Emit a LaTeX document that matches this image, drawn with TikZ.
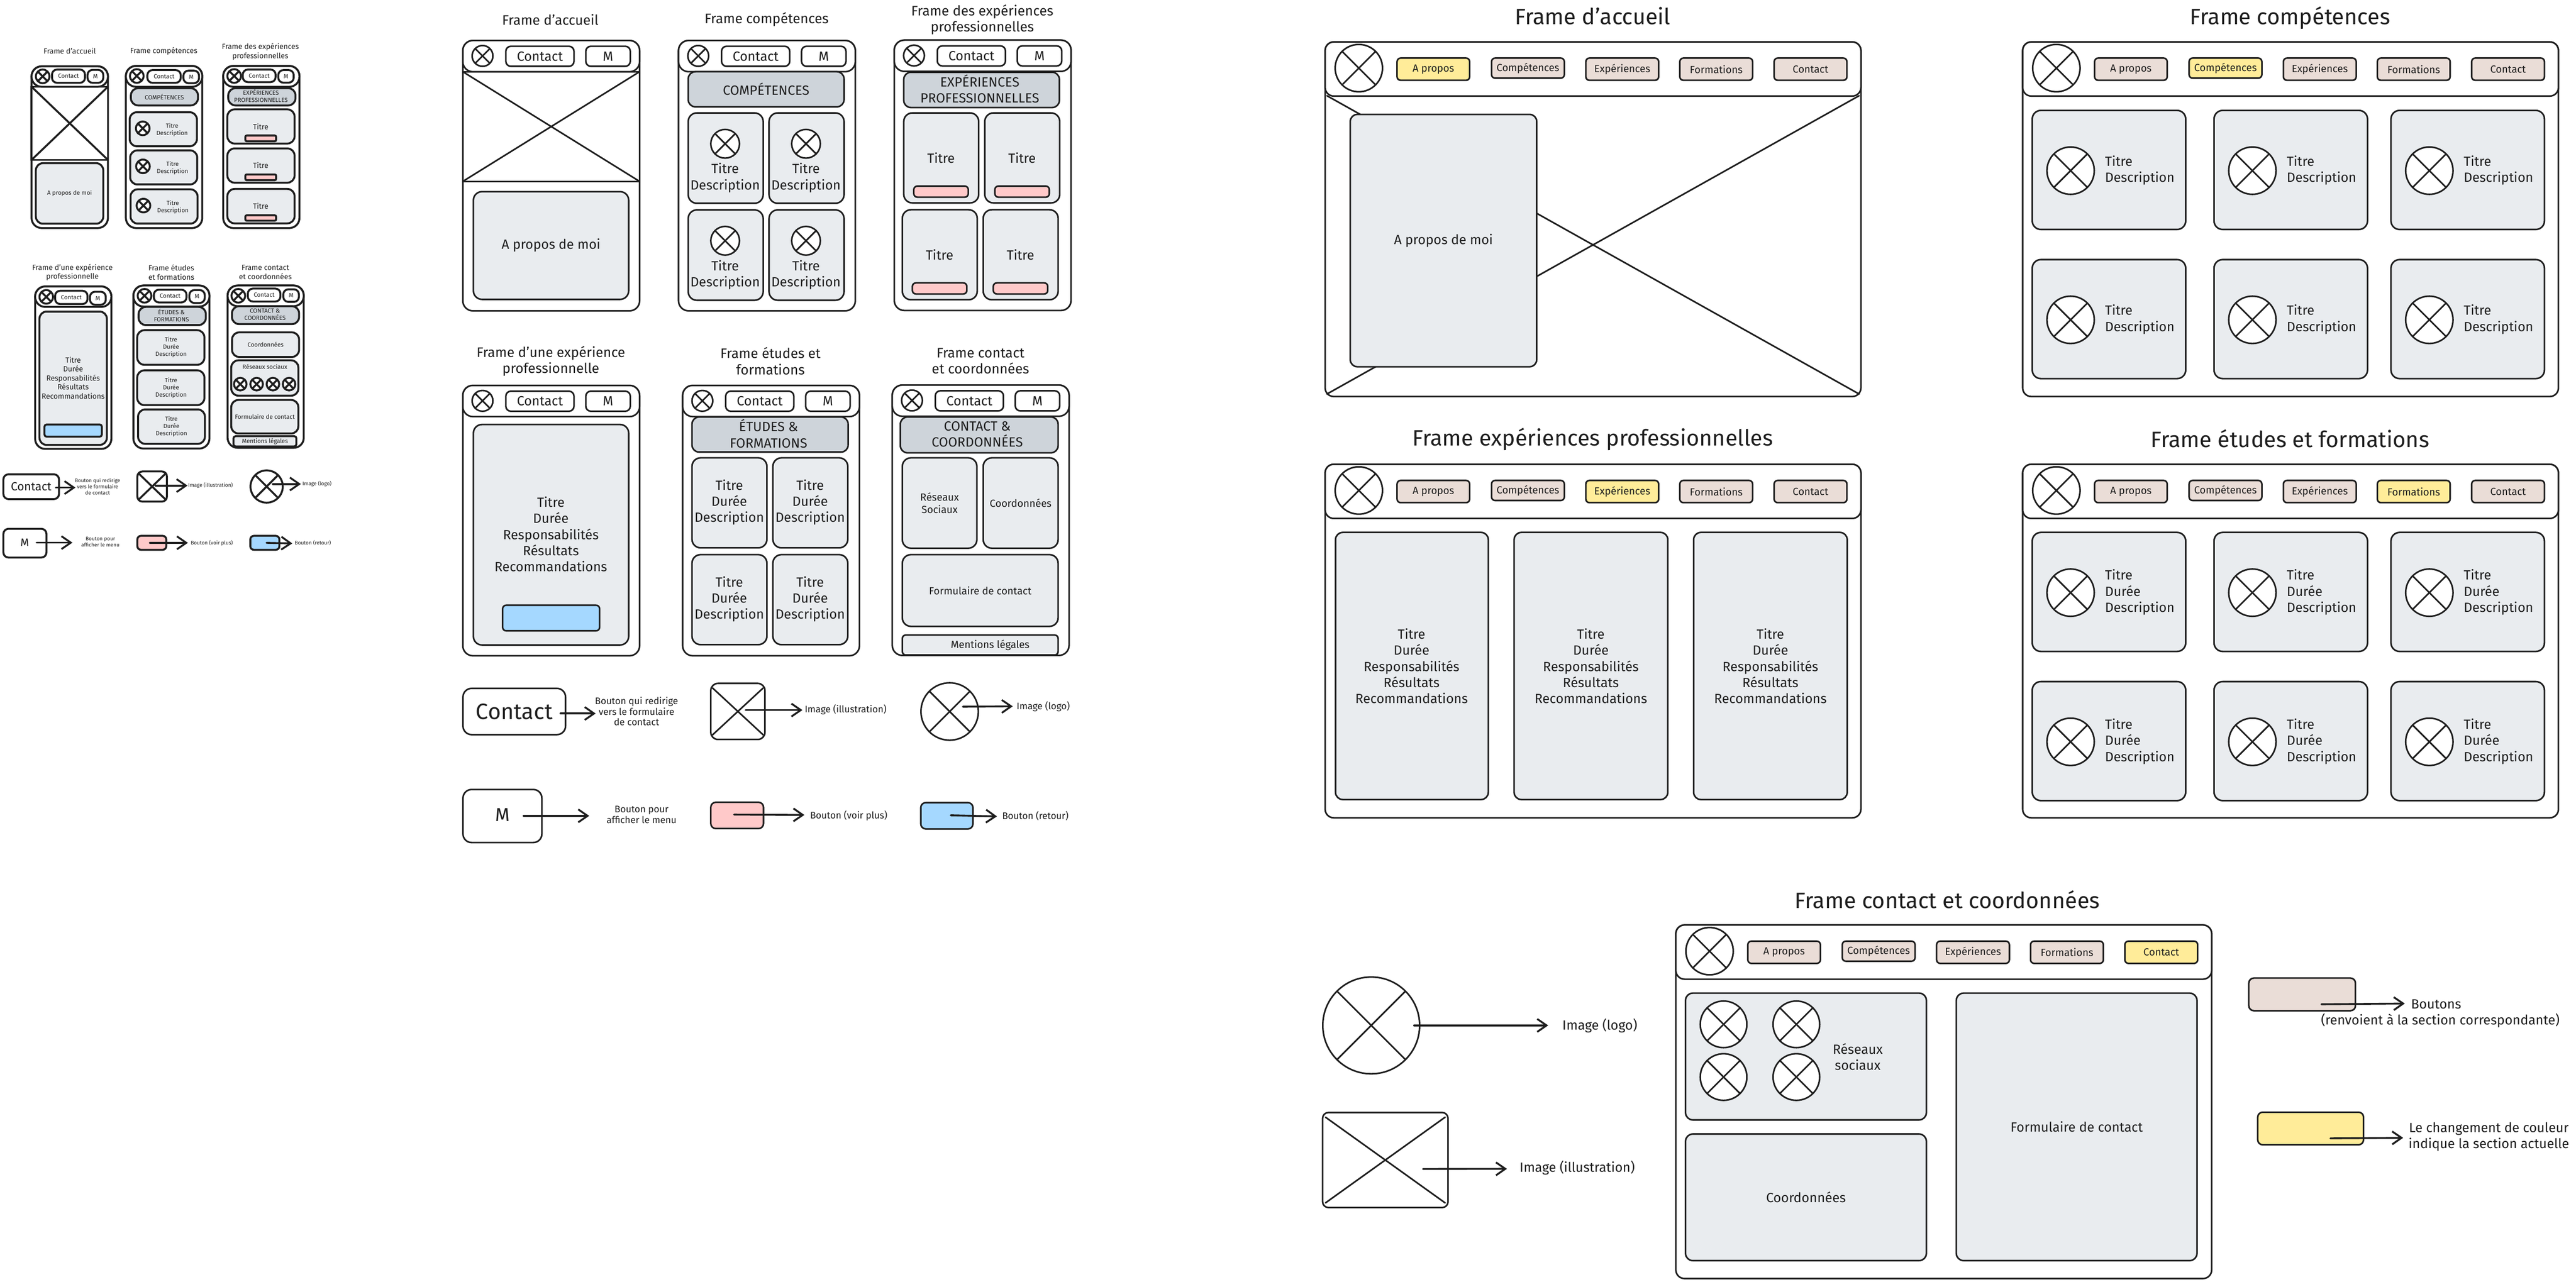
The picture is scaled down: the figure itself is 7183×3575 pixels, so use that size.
\documentclass[tikz,border=0pt]{standalone}
\usepackage{fontspec}
\setmainfont{Fira Sans}
\usetikzlibrary{arrows.meta,calc}
\definecolor{ink}{HTML}{1E1E1E}
\definecolor{grayc}{HTML}{E9ECEF}
\definecolor{bann}{HTML}{CED4DA}
\definecolor{pnk}{HTML}{FFC9C9}
\definecolor{blu}{HTML}{A5D8FF}
\definecolor{yel}{HTML}{FFEC99}
\definecolor{bei}{HTML}{EADDD7}
\tikzset{
  base/.style={rectangle,draw=ink,line width=1.1pt,inner sep=0pt,outer sep=0pt,text=ink,align=center},
  fr/.style={base,fill=white,rounded corners=7pt},
  frb/.style={base,fill=white,rounded corners=6pt},
  crd/.style={base,fill=grayc,rounded corners=6pt},
  crs/.style={base,fill=grayc,rounded corners=5pt},
  ban/.style={base,fill=bann,rounded corners=5pt},
  btn/.style={base,fill=white,rounded corners=3.5pt},
  sb/.style={base,fill=#1,rounded corners=2.5pt},
  imgb/.style={base,fill=white},
  ghost/.style={rectangle,inner sep=0pt,outer sep=0pt},
  mini/.style={line width=1.35pt},
  logo/.style={circle,draw=ink,fill=white,line width=1.1pt,inner sep=0pt,outer sep=0pt},
  cross/.style={draw=ink,line width=1.1pt,line cap=round},
  arr/.style={draw=ink,line width=1.3pt,line cap=round,-{Straight Barb[length=6.5pt,width=9pt,line width=1.3pt]}},
  txt/.style={inner sep=0pt,outer sep=0pt,text=ink,align=center},
  txl/.style={inner sep=0pt,outer sep=0pt,text=ink,align=left},
  t13/.style={font=\fontsize{3.6}{4.2}\selectfont},
  t16/.style={font=\fontsize{4.2}{5}\selectfont},
  t20/.style={font=\fontsize{5.2}{6.25}\selectfont},
  t24/.style={font=\fontsize{6.6}{7.5}\selectfont},
  t28/.style={font=\fontsize{7.2}{8.75}\selectfont},
  t30/.style={font=\fontsize{7.5}{9}\selectfont},
  t32/.style={font=\fontsize{8.2}{10}\selectfont},
  t36/.style={font=\fontsize{9.3}{11.25}\selectfont},
  t38/.style={font=\fontsize{9.6}{11.25}\selectfont},
  t55/.style={font=\fontsize{13}{16}\selectfont},
  t60/.style={font=\fontsize{15.5}{18}\selectfont},
  t61/.style={font=\fontsize{15.5}{19}\selectfont},
}
% box: name, style, x1,y1,x2,y2, text
\newcommand\bxx[7]{\pgfmathsetmacro\bxw{((#5)-(#3))*0.25}\pgfmathsetmacro\bxh{((#6)-(#4))*0.25}%
  \node[#2,minimum width=\bxw pt,minimum height=\bxh pt] (#1) at ({((#3)+(#5))/2},{((#4)+(#6))/2}) {#7};}
% logo: name,cx,cy,r,style
\newcommand\lgo[5]{\pgfmathsetmacro\lgd{2*(#4)*0.25}%
  \node[logo,#5,minimum size=\lgd pt] (#1) at ({#2},{#3}) {};
  \draw[cross,#5] (#1.45) -- (#1.225);
  \draw[cross,#5] (#1.135) -- (#1.315);}
\newcommand\xcr[2]{\draw[cross,#2] (#1.north west) -- (#1.south east); \draw[cross,#2] (#1.north east) -- (#1.south west);}
% cross with inset ends, for rounded boxes: node, style, dx, dy
\newcommand\xci[4]{\draw[cross,#2] ($(#1.north west)+(#3,#4)$) -- ($(#1.south east)+(-#3,-#4)$);
  \draw[cross,#2] ($(#1.north east)+(-#3,#4)$) -- ($(#1.south west)+(#3,-#4)$);}
\newcommand\txc[5]{\node[txt,#4] (#1) at ({#2},{#3}) {#5};}
\newcommand\txw[5]{\node[txl,#4,anchor=west] (#1) at ({#2},{#3}) {#5};}
\newcommand\arw[5]{\coordinate (#1s) at ({#2},{#3}); \coordinate (#1e) at ({#4},{#5}); \draw[arr] (#1s) -- (#1e);}
% medium frame: prefix,x0,y0
\newcommand\tabf[3]{%
  \bxx{#1f}{fr}{#2}{#3}{(#2)+493}{(#3)+754}{}
  \bxx{#1h}{fr}{#2}{#3}{(#2)+493}{(#3)+87}{}
  \lgo{#1l}{(#2)+55}{(#3)+43}{29}{}
  \bxx{#1c}{btn,t36}{(#2)+120}{(#3)+16}{(#2)+310}{(#3)+72}{Contact}
  \bxx{#1m}{btn,t36}{(#2)+343}{(#3)+16}{(#2)+467}{(#3)+72}{M}}
% large header button
\newcommand\hbn[8]{\ifnum#4=#5\relax\def\hbc{yel}\else\def\hbc{bei}\fi
  \bxx{#1}{sb=\hbc,t28}{(#2)+#6}{(#3)+45}{(#2)+#7}{(#3)+#8}{\hbt}}
\newcommand\bigf[5]{% prefix,x0,y0,y1,active
  \bxx{#1f}{frb}{#2}{#3}{(#2)+1494}{#4}{}
  \ifnum#5=1\relax
    \node[ghost,minimum width=371pt,minimum height=208pt] (#1i) at ({(#2)+747},{(#3)+566}) {};
    \xcr{#1i}{}
  \fi
  \bxx{#1h}{frb}{#2}{#3}{(#2)+1494}{(#3)+151}{}
  \lgo{#1l}{(#2)+94}{(#3)+73}{66}{}
  \def\hbt{A propos}\hbn{#1b1}{#2}{#3}{1}{#5}{200.6}{403}{107}
  \def\hbt{Compétences}\hbn{#1b2}{#2}{#3}{2}{#5}{464}{667}{101}
  \def\hbt{Expériences}\hbn{#1b3}{#2}{#3}{3}{#5}{727}{930}{107}
  \def\hbt{Formations}\hbn{#1b4}{#2}{#3}{4}{#5}{989}{1192}{107}
  \def\hbt{Contact}\hbn{#1b5}{#2}{#3}{5}{#5}{1252}{1455}{107}}
% large card with logo: name,x1,y1,text
\newcommand\ccard[4]{\bxx{#1}{crd}{#2}{#3}{(#2)+428}{(#3)+332}{}
  \lgo{#1l}{(#2)+107}{(#3)+168}{66}{}
  \txw{#1t}{(#2)+203}{(#3)+167}{t36}{#4}}
% medium card: name,x1,y1 with logo + text
\newcommand\mcl[3]{\bxx{#1}{crd}{#2}{#3}{(#2)+209}{(#3)+252}{}
  \lgo{#1l}{(#2)+103}{(#3)+86}{40}{}
  \txc{#1t}{(#2)+103}{(#3)+181}{t36}{Titre\\Description}}
\newcommand\mct[3]{\bxx{#1}{crd}{#2}{#3}{(#2)+209}{(#3)+251}{}
  \txc{#1t}{(#2)+104}{(#3)+124}{t36}{Titre\\Durée\\Description}}
% medium exp card: name,x1,y1
\newcommand\mce[3]{\bxx{#1}{crd}{#2}{#3}{(#2)+209}{(#3)+251}{}
  \txc{#1t}{(#2)+104}{(#3)+126}{t36}{Titre}
  \bxx{#1b}{sb=pnk}{(#2)+28}{(#3)+204}{(#2)+180}{(#3)+235}{}}
\begin{document}
\begin{tikzpicture}[x=0.25pt,y=-0.25pt]
\useasboundingbox (0,0) rectangle (7183,3575);
\fill[white] (0,0) rectangle (7183,3575);

%%% MINI ROW 1
\txc{mt1}{194.5}{142}{t20}{Frame d'accueil}
\txc{mt2}{456.6}{143}{t20}{Frame compétences}
\txc{mt3}{726}{144}{t20}{Frame des expériences\\professionnelles}
\bxx{maf}{fr,mini}{88}{185}{301}{636}{}
\bxx{mai}{imgb,mini}{88}{242}{301}{446}{}
\xcr{mai}{mini}
\bxx{mah}{fr,mini}{88}{185}{301}{242}{}
\lgo{mal}{119}{213}{19}{mini}
\bxx{mac}{btn,mini,t16}{145}{194}{237}{231}{Contact}
\bxx{mam}{btn,mini,t16}{244}{195}{288}{231}{M}
\bxx{mab}{crs,mini,t16}{100}{455}{288}{624}{A propos de moi}

\bxx{mbf}{fr,mini}{351}{184}{564}{636}{}
\bxx{mbh}{fr,mini}{351}{184}{564}{242}{}
\lgo{mbl}{381.4}{212}{19}{mini}
\bxx{mbc}{btn,mini,t16}{411}{195.5}{504}{231}{Contact}
\bxx{mbm}{btn,mini,t16}{511.5}{197}{555}{232}{M}
\bxx{mbb}{ban,mini,t16}{365}{246}{552}{294}{COMPÉTENCES}
\bxx{mb1}{crs,mini}{361.6}{313}{549}{408}{}
\lgo{mb1l}{398}{358}{19}{mini}
\txc{mb1t}{480}{362.5}{t16}{Titre\\Description}
\bxx{mb2}{crs,mini}{363}{419.5}{550}{514.4}{}
\lgo{mb2l}{398.6}{464}{19}{mini}
\txc{mb2t}{481}{468.5}{t16}{Titre\\Description}
\bxx{mb3}{crs,mini}{364}{528}{551}{623.6}{}
\lgo{mb3l}{400}{573.4}{19}{mini}
\txc{mb3t}{482}{578}{t16}{Titre\\Description}

\bxx{mcf}{fr,mini}{622.4}{184}{835}{636}{}
\bxx{mch}{fr,mini}{622.4}{184}{835}{242}{}
\lgo{mcl}{653}{212}{19}{mini}
\bxx{mcc}{btn,mini,t16}{677}{194}{768.5}{229}{Contact}
\bxx{mcm}{btn,mini,t16}{776}{195.5}{819}{230.6}{M}
\bxx{mcb}{ban,mini}{636.5}{246}{824}{294}{}
\txc{mcbt}{727.5}{267}{t16}{EXPÉRIENCES\\PROFESSIONNELLES}
\bxx{mc1}{crs,mini}{634}{305}{821.4}{400.4}{}
\txc{mc1t}{727}{352.6}{t20}{Titre}
\bxx{mc1b}{sb=pnk,mini,rounded corners=1pt}{684}{378}{770}{394}{}
\bxx{mc2}{crs,mini}{634}{414}{821.4}{509.6}{}
\txc{mc2t}{727}{461}{t20}{Titre}
\bxx{mc2b}{sb=pnk,mini,rounded corners=1pt}{684}{486.5}{770}{502.5}{}
\bxx{mc3}{crs,mini}{634}{527}{821.4}{623}{}
\txc{mc3t}{727}{574}{t20}{Titre}
\bxx{mc3b}{sb=pnk,mini,rounded corners=1pt}{684}{600.5}{770}{615.6}{}

%%% MINI ROW 2
\txc{mt4}{202}{759.5}{t20}{Frame d'une expérience\\professionnelle}
\txc{mt5}{477.7}{759.5}{t20}{Frame études\\et formations}
\txc{mt6}{740}{759.5}{t20}{Frame contact\\et coordonnées}
\bxx{mdf}{fr,mini}{98}{799}{310.6}{1252}{}
\bxx{mdh}{fr,mini}{98}{799}{310.6}{856}{}
\lgo{mdl}{129}{828}{19}{mini}
\bxx{mdc}{btn,mini,t16}{153.7}{811}{244}{848}{Contact}
\bxx{mdm}{btn,mini,t16}{251}{813.7}{295}{850}{M}
\bxx{mdb}{crs,mini}{110}{869}{298}{1241}{}
\txc{mdt}{204}{1054}{t20}{Titre\\Durée\\Responsabilités\\Résultats\\Recommandations}
\bxx{mdr}{sb=blu,mini,rounded corners=1.5pt}{124}{1184}{284}{1218}{}

\bxx{mef}{fr,mini}{372}{796.4}{584}{1251}{}
\bxx{meh}{fr,mini}{372}{796.4}{584}{855}{}
\lgo{mel}{403}{825}{19}{mini}
\bxx{mec}{btn,mini,t16}{429}{808}{520}{843.5}{Contact}
\bxx{mem}{btn,mini,t16}{528}{809}{571}{845}{M}
\bxx{meb}{ban,mini}{386.5}{856}{574}{906.6}{}
\txc{mebt}{478}{879.7}{t16}{ÉTUDES \&\\FORMATIONS}
\bxx{me1}{crs,mini}{382.6}{921}{570}{1017.5}{}
\txc{me1t}{477}{968.3}{t16}{Titre\\Durée\\Description}
\bxx{me2}{crs,mini}{382.6}{1033}{570}{1130}{}
\txc{me2t}{477}{1081.5}{t16}{Titre\\Durée\\Description}
\bxx{me3}{crs,mini}{385}{1142}{571.4}{1238}{}
\txc{me3t}{478}{1189.3}{t16}{Titre\\Durée\\Description}

\bxx{mff}{fr,mini}{634.6}{796.4}{847}{1249}{}
\bxx{mfh}{fr,mini}{634.6}{796.4}{847}{854}{}
\lgo{mfl}{664.5}{825}{19}{mini}
\bxx{mfc}{btn,mini,t16}{691}{805}{782}{841}{Contact}
\bxx{mfm}{btn,mini,t16}{790}{807}{833.5}{842}{M}
\bxx{mfb}{ban,mini}{646.7}{854}{834}{904}{}
\txc{mfbt}{739}{877.5}{t16}{CONTACT \&\\COORDONNÉES}
\bxx{mf1}{crs,mini,t16}{647}{927}{834}{995.6}{Coordonnées}
\bxx{mf2}{crs,mini}{644.8}{1005}{832}{1103.6}{}
\txc{mf2t}{738.5}{1023}{t16}{Réseaux sociaux}
\lgo{mf2a}{670}{1071.4}{17.5}{mini}
\lgo{mf2b}{715.6}{1071.4}{17.5}{mini}
\lgo{mf2c}{761}{1071.4}{17.5}{mini}
\lgo{mf2d}{806}{1071.4}{17.5}{mini}
\bxx{mf3}{crs,mini,t16}{644.8}{1115.6}{832}{1209}{Formulaire de contact}
\bxx{mf4}{sb=grayc,mini,t16,rounded corners=1.5pt}{651}{1216.6}{826.5}{1245}{Mentions légales}

%%% MINI LEGEND
\bxx{mg1}{btn,mini,t32}{9.5}{1323}{164.5}{1392}{Contact}
\arw{mga1}{156}{1360}{210.5}{1360}
\txc{mg1t}{272}{1357}{t13}{Bouton qui redirige\\vers le formulaire\\de contact}
\bxx{mg2}{btn,mini}{383}{1315}{465.5}{1399}{}
\xci{mg2}{mini}{4}{6}
\arw{mga2}{433.7}{1354.4}{523}{1354.4}
\txc{mg2t}{587}{1354}{t13}{Image (illustration)}
\lgo{mg3}{743.5}{1357}{45}{mini}
\arw{mga3}{761}{1350}{839}{1350}
\txc{mg3t}{884}{1350}{t13}{Image (logo)}
\bxx{mg4}{btn,mini}{9.5}{1475}{129.5}{1555}{}
\txc{mg4m}{69}{1513.5}{t30}{M}
\arw{mga4}{102}{1513.5}{202}{1513.5}
\txc{mg4t}{280}{1511.5}{t13}{Bouton pour\\afficher le menu}
\bxx{mg5}{sb=pnk,mini}{383}{1494.5}{463.6}{1533.5}{}
\arw{mga5}{418}{1514}{524}{1514}
\txc{mg5t}{590.6}{1514.6}{t13}{Bouton (voir plus)}
\bxx{mg6}{sb=blu,mini}{698}{1494.5}{779}{1533.5}{}
\arw{mga6}{743}{1514}{815}{1515.7}
\txc{mg6t}{872.4}{1513.5}{t13}{Bouton (retour)}

%%% MEDIUM ROW 1
\txc{t1}{1534.6}{54.5}{t38}{Frame d'accueil}
\txc{t2}{2137.7}{54.5}{t38}{Frame compétences}
\txc{t3}{2739}{55}{t38}{Frame des expériences\\professionnelles}
\bxx{af}{fr}{1290.5}{113}{1783.5}{867}{}
\bxx{ai}{imgb}{1290.5}{200}{1783.5}{506}{}
\xcr{ai}{}
\bxx{ah}{fr}{1290.5}{113}{1783.5}{200}{}
\lgo{al}{1345.5}{156}{29}{}
\bxx{ac}{btn,t36}{1410.5}{129}{1600.5}{185}{Contact}
\bxx{am}{btn,t36}{1633.5}{129}{1757.5}{185}{M}
\bxx{ab}{crd,t36}{1320}{534.5}{1753}{835}{A propos de moi}

\tabf{b}{1892}{113}
\bxx{bb}{ban,t36}{1919}{200}{2353.5}{298}{COMPÉTENCES}
\mcl{b1}{1919}{315}
\mcl{b2}{2144.5}{315}
\mcl{b3}{1919}{585.5}
\mcl{b4}{2144.5}{585.5}

\tabf{c}{2493.6}{112}
\bxx{cb}{ban}{2520}{201.5}{2954}{300}{}
\txc{cbt}{2732}{247.5}{t36}{EXPÉRIENCES\\PROFESSIONNELLES}
\mce{c1}{2520}{315}
\mce{c2}{2746}{315}
\mce{c3}{2516}{585}
\mce{c4}{2741.6}{585}

%%% MEDIUM ROW 2
\txc{t4}{1536}{1007}{t38}{Frame d'une expérience\\professionnelle}
\txc{t5}{2148.4}{1007}{t38}{Frame études et\\formations}
\txc{t6}{2734}{1007}{t38}{Frame contact\\et coordonnées}
\tabf{d}{1290.5}{1075}
\bxx{db}{crd}{1320}{1184}{1753}{1799}{}
\txc{dbt}{1536}{1490}{t36}{Titre\\Durée\\Responsabilités\\Résultats\\Recommandations}
\bxx{dr}{sb=blu}{1401.5}{1688}{1672}{1759.5}{}

\tabf{e}{1903.5}{1075}
\bxx{eb}{ban}{1929.5}{1163}{2365}{1261}{}
\txc{ebt}{2143}{1209.5}{t36}{ÉTUDES \&\\FORMATIONS}
\mct{e1}{1929.5}{1277}
\mct{e2}{2155}{1277}
\mct{e3}{1929.5}{1547}
\mct{e4}{2155}{1547}

\tabf{f}{2488}{1074}
\bxx{fb}{ban}{2510.5}{1163}{2950.5}{1263}{}
\txc{fbt}{2725}{1211}{t36}{CONTACT \&\\COORDONNÉES}
\bxx{f1}{crd}{2516}{1277}{2724}{1529}{}
\txc{f1t}{2620}{1403}{t28}{Réseaux\\Sociaux}
\bxx{f2}{crd,t28}{2741.6}{1277}{2950.5}{1529}{Coordonnées}
\bxx{f3}{crd,t28}{2516}{1547}{2950.5}{1747}{Formulaire de contact}
\bxx{f4}{sb=grayc}{2516}{1771}{2950.5}{1827}{}
\txc{f4t}{2761}{1800}{t28}{Mentions légales}

%%% MEDIUM LEGEND
\bxx{g1}{btn,t60,rounded corners=6pt}{1291}{1920}{1577}{2049}{Contact}
\arw{ga1}{1563}{1990}{1661}{1990}
\txc{g1t}{1775}{1984}{t24}{Bouton qui redirige\\vers le formulaire\\de contact}
\bxx{g2}{btn,rounded corners=5pt}{1982}{1906}{2133}{2062.5}{}
\xci{g2}{}{5}{13}
\arw{ga2}{2079}{1980.5}{2237.5}{1980.5}
\txc{g2t}{2358}{1979}{t24}{Image (illustration)}
\lgo{g3}{2648}{1984.5}{80}{}
\arw{ga3}{2685}{1971}{2824}{1970}
\txc{g3t}{2909}{1971}{t24}{Image (logo)}
\bxx{g4}{btn,rounded corners=6pt}{1291}{2202}{1511}{2350}{}
\txc{g4m}{1401}{2273}{t55}{M}
\arw{ga4}{1460}{2275.5}{1643}{2275.5}
\txc{g4t}{1789}{2272}{t24}{Bouton pour\\afficher le menu}
\bxx{g5}{sb=pnk,rounded corners=3.5pt}{1982}{2237.6}{2129}{2311}{}
\arw{ga5}{2047}{2272}{2243}{2273}
\txc{g5t}{2366.6}{2275}{t24}{Bouton (voir plus)}
\bxx{g6}{sb=blu,rounded corners=3.5pt}{2567.5}{2238.6}{2713}{2312}{}
\arw{ga6}{2651}{2274}{2780}{2277}
\txc{g6t}{2887}{2275}{t24}{Bouton (retour)}

%%% LARGE
\txc{T1}{4441}{44}{t61}{Frame d'accueil}
\bigf{A}{3695}{117}{1106}{1}
\bxx{Ab}{crs,t36}{3765}{319}{4285}{1023}{A propos de moi}

\txc{T2}{6385.5}{50}{t61}{Frame compétences}
\bigf{B}{5640}{117}{1106}{2}
\ccard{B1}{5666.7}{308}{Titre\\Description}
\ccard{B2}{6173.6}{308}{Titre\\Description}
\ccard{B3}{6667}{308}{Titre\\Description}
\ccard{B4}{5666.7}{724}{Titre\\Description}
\ccard{B5}{6173.6}{724}{Titre\\Description}
\ccard{B6}{6667}{724}{Titre\\Description}

\txc{T3}{4441}{1225}{t61}{Frame expériences professionnelles}
\bigf{C}{3695}{1295}{2281}{3}
\bxx{C1}{crs}{3724}{1485}{4150}{2230}{}
\txc{C1t}{3936}{1858}{t36}{Titre\\Durée\\Responsabilités\\Résultats\\Recommandations}
\bxx{C2}{crs}{4222}{1485}{4650.5}{2230}{}
\txc{C2t}{4436}{1858}{t36}{Titre\\Durée\\Responsabilités\\Résultats\\Recommandations}
\bxx{C3}{crs}{4722.6}{1485}{5150.7}{2230}{}
\txc{C3t}{4936.6}{1858}{t36}{Titre\\Durée\\Responsabilités\\Résultats\\Recommandations}

\txc{T4}{6385.5}{1223}{t61}{Frame études et formations}
\bigf{D}{5640}{1295}{2281}{4}
\ccard{D1}{5666.7}{1485}{Titre\\Durée\\Description}
\ccard{D2}{6173.6}{1485}{Titre\\Durée\\Description}
\ccard{D3}{6667}{1485}{Titre\\Durée\\Description}
\ccard{D4}{5666.7}{1901}{Titre\\Durée\\Description}
\ccard{D5}{6173.6}{1901}{Titre\\Durée\\Description}
\ccard{D6}{6667}{1901}{Titre\\Durée\\Description}

\txc{T5}{5430}{2508.4}{t61}{Frame contact et coordonnées}
\bigf{E}{4673}{2580}{3566}{5}
\bxx{E1}{crs}{4700}{2770}{5371.5}{3123.5}{}
\lgo{E1a}{4806}{2857}{65}{}
\lgo{E1b}{5009}{2857}{65}{}
\lgo{E1c}{4806}{3004}{65}{}
\lgo{E1d}{5009}{3004}{65}{}
\txc{E1t}{5180}{2948}{t36}{Réseaux\\sociaux}
\bxx{E2}{crs,t36}{4700}{3163}{5371.5}{3516}{Coordonnées}
\bxx{E3}{crs,t36}{5455}{2770}{6126}{3516}{Formulaire de contact}

\lgo{L1}{3823.5}{2860}{135}{}
\arw{La1}{3943}{2860}{4317}{2860}
\txc{L1t}{4461}{2860}{t36}{Image (logo)}
\bxx{L2}{btn,rounded corners=4pt}{3688}{3103}{4037.6}{3368}{}
\xci{L2}{}{8}{13}
\arw{La2}{3968}{3260.5}{4202}{3260}
\txc{L2t}{4398}{3257.5}{t36}{Image (illustration)}
\bxx{R1}{sb=bei,rounded corners=3.5pt}{6270.6}{2728}{6568}{2819}{}
\arw{Ra1}{6473}{2801}{6705.5}{2799}
\txc{R1t}{6793}{2801.5}{t36}{Boutons}
\txc{R1u}{6804.6}{2845.8}{t36}{(renvoient à la section correspondante)}
\bxx{R2}{sb=yel,rounded corners=3.5pt}{6295.4}{3102}{6590.5}{3193}{}
\arw{Ra2}{6498}{3175}{6701}{3173.5}
\txc{R2t}{6940}{3170.5}{t36}{Le changement de couleur\\indique la section actuelle}
\end{tikzpicture}
\end{document}
